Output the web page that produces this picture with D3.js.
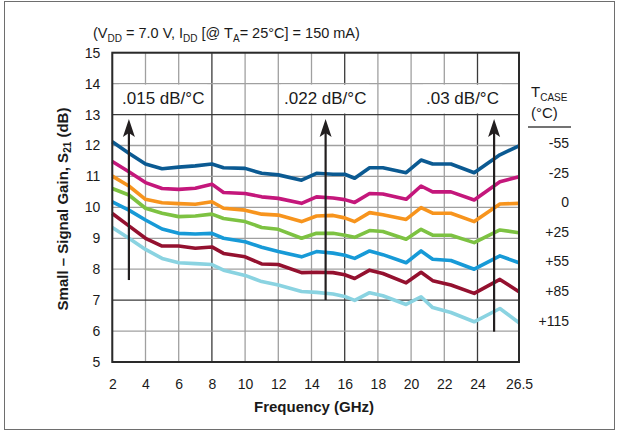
<!DOCTYPE html>
<html><head><meta charset="utf-8">
<script src="https://cdn.jsdelivr.net/npm/d3@7/dist/d3.min.js"></script>
<style>
html,body{margin:0;padding:0;background:#fff;}
text{font-family:"Liberation Sans",Arial,Helvetica,sans-serif;fill:#1a1a1a;}
</style></head>
<body><svg id="c" width="618" height="437"></svg>
<script>
// ---- data ----
const freq = [2, 3, 4, 5, 6, 7, 8, 8.7, 10, 11, 12, 13.4, 14.3, 15.3, 16, 16.6, 17.5, 18.3, 19.7, 20.6, 21.3, 22.4, 23.8, 25.35, 26.5];
const seriesNames = ["-55", "-25", "0", "+25", "+55", "+85", "+115"];
const gM55  = [12.12, 11.75, 11.4, 11.25, 11.3, 11.34, 11.4, 11.28, 11.26, 11.1, 11.05, 10.88, 11.1, 11.07, 11.07, 10.94, 11.28, 11.28, 11.12, 11.53, 11.4, 11.4, 11.12, 11.7, 11.99];
const gM25  = [11.48, 11.15, 10.8, 10.61, 10.58, 10.62, 10.75, 10.48, 10.45, 10.34, 10.29, 10.13, 10.34, 10.3, 10.25, 10.16, 10.45, 10.43, 10.26, 10.69, 10.5, 10.5, 10.24, 10.83, 10.99];
const g0    = [11.01, 10.69, 10.26, 10.15, 10.12, 10.1, 10.18, 9.97, 9.91, 9.78, 9.75, 9.54, 9.72, 9.74, 9.66, 9.54, 9.83, 9.76, 9.61, 9.99, 9.81, 9.81, 9.54, 10.11, 10.13];
const gP25  = [10.61, 10.4, 9.97, 9.81, 9.7, 9.72, 9.78, 9.64, 9.54, 9.35, 9.29, 9.0, 9.16, 9.16, 9.1, 9.03, 9.25, 9.22, 8.97, 9.29, 9.1, 9.1, 8.86, 9.27, 9.18];
const gP55  = [10.18, 9.91, 9.59, 9.3, 9.16, 9.14, 9.16, 9.0, 8.89, 8.71, 8.57, 8.4, 8.57, 8.52, 8.45, 8.35, 8.59, 8.47, 8.21, 8.59, 8.32, 8.28, 8.0, 8.43, 8.21];
const gP85  = [9.8, 9.4, 9.0, 8.75, 8.75, 8.68, 8.72, 8.51, 8.4, 8.17, 8.15, 7.89, 7.9, 7.89, 7.82, 7.7, 7.97, 7.86, 7.56, 7.9, 7.63, 7.49, 7.22, 7.67, 7.27];
const gP115 = [9.35, 9.0, 8.64, 8.35, 8.21, 8.18, 8.15, 7.97, 7.8, 7.6, 7.49, 7.28, 7.25, 7.2, 7.12, 6.99, 7.24, 7.14, 6.86, 7.11, 6.76, 6.6, 6.3, 6.73, 6.27];
const seriesValues = [gM55, gM25, g0, gP25, gP55, gP85, gP115];
const seriesColors = ["#0b5a92", "#c4177b", "#f7941d", "#7dc242", "#179ad7", "#94112f", "#8ad3e1"];
const xTicks = [2, 4, 6, 8, 10, 12, 14, 16, 18, 20, 22, 24, 26.5];
const yTicks = [5, 6, 7, 8, 9, 10, 11, 12, 13, 14, 15];
const darkX = [8, 16, 24];
const darkY = [7, 13];
const arrowFreq = [3, 14.85, 25];
const arrowFrom = [7.65, 7.0, 5.98];
const arrowTo = [12.86, 12.86, 12.86];
const arrowLabels = [".015 dB/°C", ".022 dB/°C", ".03 dB/°C"];
const arrowLabelX = [122, 284, 426];

// ---- chart ----
const svg = d3.select("#c");
const L = 112.3, R = 519, T = 52.7, B = 362;
const x = d3.scaleLinear().domain([2, 26.5]).range([L, R]);
const y = d3.scaleLinear().domain([5, 15]).range([B, T]);

// outer frame
svg.append("rect").attr("x", 4.5).attr("y", 1.5).attr("width", 610).attr("height", 428)
  .attr("fill", "none").attr("stroke", "#6e6e6e").attr("stroke-width", 1);

// grid
const g = svg.append("g");
g.selectAll(".vx").data(xTicks).join("line")
  .attr("x1", d => x(d)).attr("x2", d => x(d)).attr("y1", T).attr("y2", B)
  .attr("stroke", d => darkX.includes(d) ? "#3a3a3a" : "#a0a0a0").attr("stroke-width", 1.3);
g.selectAll(".hy").data(yTicks).join("line")
  .attr("x1", L).attr("x2", R).attr("y1", d => y(d)).attr("y2", d => y(d))
  .attr("stroke", d => darkY.includes(d) ? "#3a3a3a" : "#a0a0a0").attr("stroke-width", 1.3);

// annotation labels with white boxes
const ann = svg.append("g");
arrowLabels.forEach((t, i) => {
  const tx = ann.append("text").attr("x", arrowLabelX[i]).attr("y", 103.5)
    .attr("font-size", 17).text(t);
  const bb = tx.node().getBBox();
  ann.insert("rect", "text").attr("x", bb.x - 3).attr("y", y(14) + 1)
    .attr("width", bb.width + 6).attr("height", y(13) - y(14) - 2).attr("fill", "#fff");
});

// series lines
const line = d3.line().x((d, i) => x(freq[i])).y(d => y(d));
svg.append("g").selectAll("path").data(seriesValues).join("path")
  .attr("d", d => line(d)).attr("fill", "none")
  .attr("stroke", (d, i) => seriesColors[i]).attr("stroke-width", 3.6)
  .attr("stroke-linejoin", "round");

// arrows
const ag = svg.append("g");
arrowFreq.forEach((f, i) => {
  const ax = x(f), y0 = y(arrowFrom[i]), y1 = y(arrowTo[i]);
  ag.append("line").attr("x1", ax).attr("x2", ax).attr("y1", y0).attr("y2", y1 + 10)
    .attr("stroke", "#231f20").attr("stroke-width", 2.2);
  ag.append("path")
    .attr("d", `M${ax},${y1} L${ax + 6},${y1 + 18} L${ax},${y1 + 14} L${ax - 6},${y1 + 18} Z`)
    .attr("fill", "#231f20");
});

// plot frame
svg.append("rect").attr("x", L).attr("y", T).attr("width", R - L).attr("height", B - T)
  .attr("fill", "none").attr("stroke", "#2a2a2a").attr("stroke-width", 2);

// axes (labels only, via d3 axes)
const xAxis = svg.append("g").attr("transform", `translate(0,${B})`)
  .call(d3.axisBottom(x).tickValues(xTicks).tickSize(0).tickPadding(17).tickFormat(d => d === 26.5 ? "26.5" : d3.format("d")(d)));
xAxis.select(".domain").remove();
xAxis.selectAll("text").attr("font-size", 14).attr("font-family", "Liberation Sans, Arial, sans-serif").attr("fill", "#1a1a1a");
const yAxis = svg.append("g").attr("transform", `translate(${L},0)`)
  .call(d3.axisLeft(y).tickValues(yTicks).tickSize(0).tickPadding(12));
yAxis.select(".domain").remove();
yAxis.selectAll("text").attr("font-size", 14).attr("font-family", "Liberation Sans, Arial, sans-serif").attr("fill", "#1a1a1a");

// axis titles
svg.append("text").attr("x", 314).attr("y", 412).attr("text-anchor", "middle")
  .attr("font-size", 15).attr("font-weight", "bold").text("Frequency (GHz)");
const yt = svg.append("text").attr("transform", "translate(68,209) rotate(-90)")
  .attr("text-anchor", "middle").attr("font-size", 15).attr("font-weight", "bold");
yt.append("tspan").text("Small – Signal Gain, S");
yt.append("tspan").attr("font-size", 10).attr("dy", 3).text("21");
yt.append("tspan").attr("dy", -3).text(" (dB)");

// title
const tt = svg.append("text").attr("x", 93).attr("y", 38).attr("font-size", 14.5);
tt.append("tspan").text("(V");
tt.append("tspan").attr("font-size", 10).attr("dy", 4).text("DD");
tt.append("tspan").attr("dy", -4).text(" = 7.0 V, I");
tt.append("tspan").attr("font-size", 10).attr("dy", 4).text("DD");
tt.append("tspan").attr("dy", -4).text(" [@ T");
tt.append("tspan").attr("font-size", 10).attr("dy", 4).text("A");
tt.append("tspan").attr("dy", -4).text("= 25°C] = 150 mA)");

// legend
const lg = svg.append("g");
const lt = lg.append("text").attr("x", 531).attr("y", 97).attr("font-size", 15);
lt.append("tspan").text("T");
lt.append("tspan").attr("font-size", 10).attr("dy", 4).text("CASE");
lg.append("text").attr("x", 531).attr("y", 118).attr("font-size", 15).text("(°C)");
lg.append("line").attr("x1", 528).attr("x2", 571).attr("y1", 127).attr("y2", 127)
  .attr("stroke", "#444").attr("stroke-width", 1.5);
lg.selectAll(".lv").data(seriesNames).join("text")
  .attr("x", 569).attr("y", (d, i) => 148 + i * 29.6).attr("text-anchor", "end")
  .attr("font-size", 14).text(d => d);
</script></body></html>
